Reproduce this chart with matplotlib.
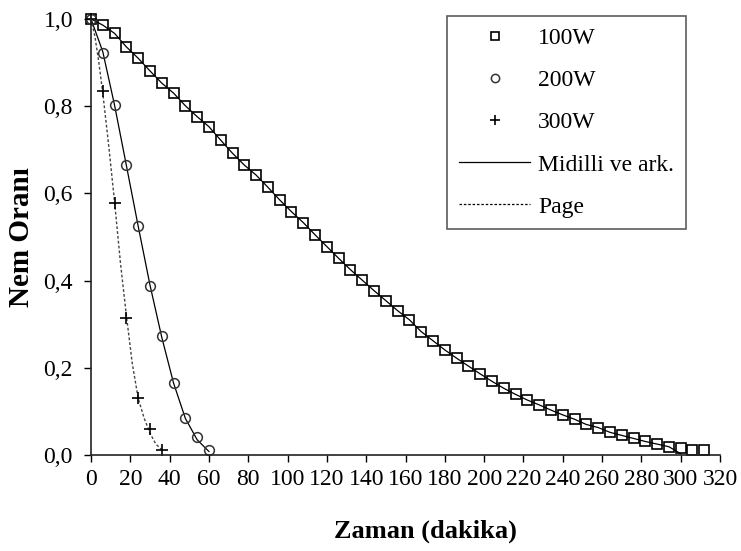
import numpy as np
import matplotlib
matplotlib.use("Agg")
import matplotlib.pyplot as plt
from matplotlib.ticker import FuncFormatter

plt.rcParams['font.family'] = ['Liberation Serif', 'DejaVu Serif']

# 100W - every 6 minutes
t_100 = np.arange(0, 313, 6)
mr_100 = [1.0, 0.986, 0.967, 0.936, 0.910, 0.881, 0.853, 0.830, 0.801, 0.776,
          0.753, 0.722, 0.692, 0.665, 0.642, 0.614, 0.585, 0.558, 0.533, 0.505,
          0.478, 0.451, 0.425, 0.401, 0.377, 0.354, 0.331, 0.310, 0.283, 0.262,
          0.241, 0.222, 0.204, 0.186, 0.169, 0.153, 0.139, 0.126, 0.115, 0.103,
          0.092, 0.082, 0.070, 0.063, 0.052, 0.045, 0.038, 0.031, 0.025, 0.019,
          0.015, 0.011, 0.011]

# 200W
t_200 = [0, 6, 12, 18, 24, 30, 36, 42, 48, 54, 60]
mr_200 = [1.0, 0.923, 0.802, 0.666, 0.526, 0.388, 0.272, 0.166, 0.084, 0.042, 0.011]

# 300W
t_300 = [0, 6, 12, 18, 24, 30, 36]
mr_300 = [1.0, 0.835, 0.577, 0.314, 0.131, 0.060, 0.011]

# model curves
fit_100_t = list(t_100[:51])
fit_100_mr = mr_100[:50] + [0.003]
fit_200_t = t_200
fit_200_mr = [1.0, 0.925, 0.802, 0.664, 0.525, 0.390, 0.270, 0.165, 0.084, 0.035, 0.008]
fit_300_t = [0, 2, 4, 6, 9, 12, 15, 18, 21, 24, 27, 30, 33, 36]
fit_300_mr = [1.0, 0.96, 0.90, 0.83, 0.71, 0.58, 0.44, 0.32, 0.21, 0.13, 0.085, 0.05, 0.025, 0.012]

fig = plt.figure(figsize=(7.41, 5.51), dpi=100)
ax = fig.add_axes([91 / 741, 1 - 455 / 551, (720 - 91) / 741, (455 - 19) / 551])

fs = 17
ax.plot(fit_100_t, fit_100_mr, color='black', lw=0.9, zorder=2)
ax.plot(fit_200_t, fit_200_mr, color='black', lw=0.9, zorder=2)
ax.plot(fit_300_t, fit_300_mr, color='#444444', lw=1.0, ls=(0, (2, 1.5)), zorder=2)

sq, = ax.plot(t_100, mr_100, ls='none', marker='s', ms=7, mfc='none', mec='black', mew=1.2, label='100W')
ci, = ax.plot(t_200, mr_200, ls='none', marker='o', ms=7, mfc='none', mec='#333333', mew=1.1, label='200W')
pl, = ax.plot(t_300, mr_300, ls='none', marker='+', ms=9, mec='black', mew=1.2, label='300W')
ln1, = ax.plot([], [], color='black', lw=0.9, label='Midilli ve ark.')
ln2, = ax.plot([], [], color='black', lw=0.9, ls=(0, (2, 1.5)), label='Page')

ax.set_xlim(0, 320)
ax.set_ylim(0, 1.0)
ax.set_xticks(np.arange(0, 321, 20))
ax.set_yticks(np.arange(0, 1.01, 0.2))
ax.yaxis.set_major_formatter(FuncFormatter(lambda v, p: f"{v:.1f}".replace('.', ',')))
ax.tick_params(labelsize=fs, direction='out', length=5, width=1.0, colors='black')
ax.tick_params(axis='x', pad=5)
ax.tick_params(axis='y', pad=8)
for s in ['top', 'right']:
    ax.spines[s].set_visible(False)
for s in ['left', 'bottom']:
    ax.spines[s].set_linewidth(1.2)
    ax.spines[s].set_color('#222222')
for l in ax.lines:
    l.set_clip_on(False)

ax.set_xlabel('Zaman (dakika)', fontsize=19, fontweight='bold')
ax.xaxis.set_label_coords(0.532, -0.147)
ax.set_ylabel('Nem Oranı', fontsize=21, fontweight='bold', labelpad=6)

leg = ax.legend(handles=[sq, ci, pl, ln1, ln2], loc='upper right',
                bbox_to_anchor=(686 / 741, 1 - 16 / 551), bbox_transform=fig.transFigure,
                fontsize=fs, frameon=True, fancybox=False, edgecolor='#333333',
                handlelength=3.0, handletextpad=0.35, labelspacing=0.87,
                borderpad=0.5, borderaxespad=0, markerscale=0.85)
leg.get_frame().set_linewidth(1.2)

fig.savefig('out.png', dpi=100)
